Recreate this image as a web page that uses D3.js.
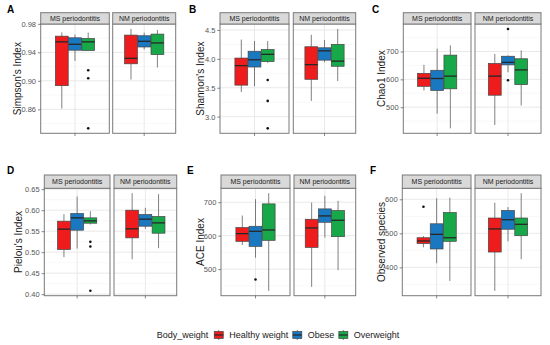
<!DOCTYPE html>
<html>
<head>
<meta charset="utf-8">
<script src="https://cdn.jsdelivr.net/npm/d3@7"></script>
<style>
  body { margin: 0; background: #fff; }
  svg { font-family: "Liberation Sans", Arial, sans-serif; }
</style>
</head>
<body>
<div id="chart"></div>
<script>
// groups and facets
const groups = ["Healthy weight", "Obese", "Overweight"];
const facets = ["MS periodontitis", "NM periodontitis"];
const groupColors = ["#EE1C1C", "#1A78C0", "#17A84A"];

// box stats per group: [lower whisker, Q1, median, Q3, upper whisker]
const simpsonMS = [[0.861, 0.8932, 0.9547, 0.9627, 0.968], [0.928, 0.943, 0.9513, 0.9604, 0.965], [0.942, 0.9426, 0.9547, 0.9594, 0.9676]];
const simpsonNM = [[0.9019, 0.9239, 0.9316, 0.9642, 0.9728], [0.944, 0.9475, 0.9555, 0.9633, 0.9676], [0.9187, 0.9368, 0.9532, 0.9656, 0.9714]];
const simpsonOut = [[0, 2, 0.9148], [0, 2, 0.9037], [0, 2, 0.8333]]; // [facet, group, value]
const simpsonTicks = [0.86, 0.90, 0.94, 0.98];

const shannonMS = [[3.427, 3.545, 3.883, 4.014, 4.334], [3.527, 3.859, 3.984, 4.132, 4.31], [3.93, 3.954, 4.079, 4.162, 4.31]];
const shannonNM = [[3.272, 3.646, 3.90, 4.21, 4.417], [3.943, 3.978, 4.139, 4.192, 4.328], [3.616, 3.872, 3.961, 4.251, 4.518]];
const shannonOut = [[0, 2, 3.633], [0, 2, 3.272], [0, 2, 2.797]];
const shannonTicks = [3.0, 3.5, 4.0, 4.5];

const chao1MS = [[560, 575, 604, 621.5, 652], [477, 560, 603, 632.6, 710], [424, 566, 611.6, 687, 722]];
const chao1NM = [[436, 543, 611.6, 657, 691.5], [626, 652, 661, 683, 686], [506, 581, 634, 674, 704]];
const chao1Out = [[1, 1, 781], [1, 1, 597]];
const chao1Ticks = [500, 600, 700];

const pielouMS = [[0.4881, 0.5063, 0.5548, 0.5738, 0.5905], [0.5087, 0.5524, 0.5817, 0.592, 0.6325], [0.566, 0.569, 0.5746, 0.5817, 0.5976]];
const pielouNM = [[0.4833, 0.5341, 0.5556, 0.60, 0.6405], [0.5556, 0.5619, 0.5786, 0.5897, 0.6056], [0.5095, 0.5452, 0.5698, 0.5849, 0.638]];
const pielouOut = [[0, 2, 0.5246], [0, 2, 0.5135], [0, 2, 0.408]];
const pielouTicks = [0.40, 0.45, 0.50, 0.55, 0.60, 0.65];

const aceMS = [[572, 583, 606, 624, 660], [534, 568, 613, 628, 709], [435, 586, 617, 695, 727]];
const aceNM = [[447, 565, 623, 649, 699], [594, 640, 659, 680, 719], [497, 597, 646, 675, 704]];
const aceOut = [[0, 1, 469]];
const aceTicks = [500, 600, 700];

const observedMS = [[459, 470, 477.5, 487, 492], [412, 454, 497, 528, 603], [360, 476.5, 487, 561, 605]];
const observedNM = [[331, 445, 513, 545, 590], [476.5, 512, 540, 567, 577], [424, 493, 526.5, 545, 618]];
const observedOut = [[0, 0, 578]];
const observedTicks = [400, 500, 600];

const svg = d3.select("#chart")
  .append("svg")
  .attr("width", 550)
  .attr("height", 345);

svg.append("rect").attr("width", 550).attr("height", 345).attr("fill", "#fff");

const rows = [
  { strip: 12.7, top: 24, bottom: 133.3, letterY: 13 },
  { strip: 175, top: 188.3, bottom: 295.7, letterY: 174 }
];

const panels = [
  { letter: "A", title: "Simpson's Index", stats: [simpsonMS, simpsonNM], out: simpsonOut, ticks: simpsonTicks, fmt: ".2f",
    cols: [[40.7, 109.3], [112.7, 175.7]], row: 0, titleX: 17.7, letterX: 7 },
  { letter: "B", title: "Shannon's Index", stats: [shannonMS, shannonNM], out: shannonOut, ticks: shannonTicks, fmt: ".1f",
    cols: [[220, 289], [293.3, 355.7]], row: 0, titleX: 200, letterX: 189 },
  { letter: "C", title: "Chao1 Index", stats: [chao1MS, chao1NM], out: chao1Out, ticks: chao1Ticks, fmt: "d",
    cols: [[403.3, 471], [475, 541]], row: 0, titleX: 381.7, letterX: 372 },
  { letter: "D", title: "Pielou's Index", stats: [pielouMS, pielouNM], out: pielouOut, ticks: pielouTicks, fmt: ".2f",
    cols: [[44.3, 110], [114, 176.7]], row: 1, titleX: 18.3, letterX: 7 },
  { letter: "E", title: "ACE Index", stats: [aceMS, aceNM], out: aceOut, ticks: aceTicks, fmt: "d",
    cols: [[221, 290], [294, 355.7]], row: 1, titleX: 200, letterX: 187 },
  { letter: "F", title: "Observed species", stats: [observedMS, observedNM], out: observedOut, ticks: observedTicks, fmt: "d",
    cols: [[402.3, 471], [475, 541]], row: 1, titleX: 381, letterX: 370 }
];

panels.forEach(p => {
  const r = rows[p.row];
  const all = p.stats[0].flat().concat(p.stats[1].flat(), p.out.map(o => o[2]));
  const [lo, hi] = d3.extent(all);
  const pad = (hi - lo) * 0.05;
  const y = d3.scaleLinear().domain([lo - pad, hi + pad]).range([r.bottom, r.top]);

  const step = p.ticks[1] - p.ticks[0];
  const minor = [];
  for (let v = p.ticks[0] - step / 2; v <= hi + pad; v += step) {
    if (v >= lo - pad) minor.push(v);
  }

  p.stats.forEach((stats, fi) => {
    const [x0, x1] = p.cols[fi];
    const cx = (x0 + x1) / 2;
    const g = svg.append("g");

    g.append("rect")
      .attr("x", x0).attr("y", r.top)
      .attr("width", x1 - x0).attr("height", r.bottom - r.top)
      .attr("fill", "#fff");

    g.selectAll(".minor").data(minor).enter().append("line")
      .attr("x1", x0).attr("x2", x1)
      .attr("y1", d => y(d)).attr("y2", d => y(d))
      .attr("stroke", "#f3f3f3").attr("stroke-width", 0.6);

    g.selectAll(".major").data(p.ticks).enter().append("line")
      .attr("x1", x0).attr("x2", x1)
      .attr("y1", d => y(d)).attr("y2", d => y(d))
      .attr("stroke", "#e6e6e6").attr("stroke-width", 0.9);

    g.append("line")
      .attr("x1", cx).attr("x2", cx)
      .attr("y1", r.top).attr("y2", r.bottom)
      .attr("stroke", "#e6e6e6").attr("stroke-width", 0.9);

    const x = d3.scaleBand().domain(groups).range([cx - 20, cx + 20]).padding(0.03);

    const box = g.selectAll(".box").data(stats).enter().append("g");

    box.append("line")
      .attr("x1", (d, i) => x(groups[i]) + x.bandwidth() / 2)
      .attr("x2", (d, i) => x(groups[i]) + x.bandwidth() / 2)
      .attr("y1", d => y(d[0])).attr("y2", d => y(d[1]))
      .attr("stroke", "#4a4a4a").attr("stroke-width", 0.7);
    box.append("line")
      .attr("x1", (d, i) => x(groups[i]) + x.bandwidth() / 2)
      .attr("x2", (d, i) => x(groups[i]) + x.bandwidth() / 2)
      .attr("y1", d => y(d[3])).attr("y2", d => y(d[4]))
      .attr("stroke", "#4a4a4a").attr("stroke-width", 0.7);
    box.append("rect")
      .attr("x", (d, i) => x(groups[i]))
      .attr("y", d => y(d[3]))
      .attr("width", x.bandwidth())
      .attr("height", d => Math.max(0.5, y(d[1]) - y(d[3])))
      .attr("fill", (d, i) => groupColors[i])
      .attr("stroke", "#444").attr("stroke-width", 0.7);
    box.append("line")
      .attr("x1", (d, i) => x(groups[i]))
      .attr("x2", (d, i) => x(groups[i]) + x.bandwidth())
      .attr("y1", d => y(d[2])).attr("y2", d => y(d[2]))
      .attr("stroke", "#262626").attr("stroke-width", 1.3);

    g.selectAll(".out").data(p.out.filter(o => o[0] === fi)).enter().append("circle")
      .attr("cx", d => x(groups[d[1]]) + x.bandwidth() / 2)
      .attr("cy", d => y(d[2]))
      .attr("r", 1.3)
      .attr("fill", "#111");

    g.append("rect")
      .attr("x", x0).attr("y", r.top)
      .attr("width", x1 - x0).attr("height", r.bottom - r.top)
      .attr("fill", "none").attr("stroke", "#7a7a7a").attr("stroke-width", 1);

    g.append("rect")
      .attr("x", x0).attr("y", r.strip)
      .attr("width", x1 - x0).attr("height", r.top - r.strip)
      .attr("fill", "#d9d9d9").attr("stroke", "#7a7a7a").attr("stroke-width", 1);
    g.append("text")
      .attr("x", cx).attr("y", (r.strip + r.top) / 2)
      .attr("dy", "0.35em")
      .attr("text-anchor", "middle")
      .attr("font-size", 7)
      .attr("fill", "#1a1a1a")
      .text(facets[fi]);

    g.append("line")
      .attr("x1", cx).attr("x2", cx)
      .attr("y1", r.bottom).attr("y2", r.bottom + 2.7)
      .attr("stroke", "#555").attr("stroke-width", 0.7);
  });

  const axis = svg.append("g")
    .attr("transform", `translate(${p.cols[0][0]},0)`)
    .call(d3.axisLeft(y).tickValues(p.ticks).tickFormat(d3.format(p.fmt)).tickSize(2.7).tickPadding(2));
  axis.select(".domain").remove();
  axis.selectAll(".tick line").attr("stroke", "#555").attr("stroke-width", 0.7);
  axis.selectAll(".tick text")
    .attr("fill", "#555")
    .attr("font-size", 7.5)
    .attr("font-family", "\"Liberation Sans\", Arial, sans-serif");

  svg.append("text")
    .attr("transform", `translate(${p.titleX},${(r.top + r.bottom) / 2}) rotate(-90)`)
    .attr("dy", "0.35em")
    .attr("text-anchor", "middle")
    .attr("font-size", 10)
    .attr("fill", "#1a1a1a")
    .text(p.title);

  svg.append("text")
    .attr("x", p.letterX).attr("y", r.letterY)
    .attr("font-size", 10)
    .attr("font-weight", "bold")
    .attr("fill", "#000")
    .text(p.letter);
});

// legend
const legend = svg.append("g").attr("transform", "translate(156.7,335)");
let lx = 0;
const lt = legend.append("text")
  .attr("x", lx).attr("dy", "0.35em")
  .attr("font-size", 9).attr("fill", "#1a1a1a")
  .text("Body_weight");
lx += lt.node().getComputedTextLength() + 6;

groups.forEach((name, i) => {
  const k = legend.append("g").attr("transform", `translate(${lx},0)`);
  k.append("line").attr("x1", 4.5).attr("x2", 4.5).attr("y1", -5).attr("y2", 5)
    .attr("stroke", "#4a4a4a").attr("stroke-width", 0.7);
  k.append("rect").attr("x", 0).attr("y", -3.5).attr("width", 9).attr("height", 7)
    .attr("fill", groupColors[i]).attr("stroke", "#444").attr("stroke-width", 0.7);
  k.append("line").attr("x1", 0).attr("x2", 9).attr("y1", 0).attr("y2", 0)
    .attr("stroke", "#262626").attr("stroke-width", 1.2);
  lx += 9 + 6;
  const t = legend.append("text")
    .attr("x", lx).attr("dy", "0.35em")
    .attr("font-size", 9).attr("fill", "#1a1a1a")
    .text(name);
  lx += t.node().getComputedTextLength() + 4.5;
});
</script>
</body>
</html>
